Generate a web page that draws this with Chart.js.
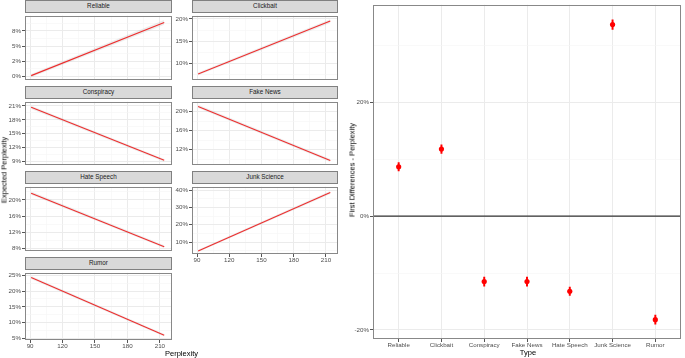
<!DOCTYPE html>
<html>
<head>
<meta charset="utf-8">
<script src="https://cdn.jsdelivr.net/npm/chart.js@4"></script>
<style>
  body { margin: 0; background: #fff; width: 685px; height: 358px; overflow: hidden; position: relative;
         font-family: "Liberation Sans", Arial, sans-serif; }
  canvas, .strip, .title { position: absolute; }
  .strip { background: #d9d9d9; border: 1px solid #808080; box-sizing: border-box; font-size: 6.3px;
           color: #1a1a1a; text-align: center; line-height: 10px; }
  .title { font-size: 7.5px; color: #000; white-space: nowrap; transform: translate(-50%, -50%); }
  .title.rot { transform: translate(-50%, -50%) rotate(-90deg); }
</style>
</head>
<body>
<script>
// ---- data ----
const types = ['Reliable', 'Clickbait', 'Conspiracy', 'Fake News', 'Hate Speech', 'Junk Science', 'Rumor'];

// left facets: expected perplexity (%) at the two ends of the perplexity range
const perplexity = [91, 214];
const perplexityTicks = [90, 120, 150, 180, 210];
const perplexityMinor = [105, 135, 165, 195];

const fitReliable = [0.15, 8.9];
const fitClickbait = [7.7, 19.5];
const fitConspiracy = [20.7, 9.25];
const fitFakeNews = [21.1, 9.7];
const fitHateSpeech = [21.7, 8.4];
const fitJunkScience = [4.9, 38.6];
const fitRumor = [24.3, 6.0];

// half width of the grey confidence band (%)
const ciReliable = [0.25, 0.4];
const ciClickbait = [0.3, 0.4];
const ciConspiracy = [0.35, 0.3];
const ciFakeNews = [0.35, 0.3];
const ciHateSpeech = [0.4, 0.35];
const ciJunkScience = [0.7, 0.9];
const ciRumor = [0.45, 0.4];

const ticksReliable = [0, 2.5, 5, 7.5];
const labelsReliable = ['0%', '2%', '5%', '8%'];
const ticksClickbait = [10, 15, 20];
const ticksConspiracy = [9, 12, 15, 18, 21];
const ticksFakeNews = [12, 16, 20];
const ticksHateSpeech = [8, 12, 16, 20];
const ticksJunkScience = [10, 20, 30, 40];
const ticksRumor = [5, 10, 15, 20, 25];

// right panel: first differences (%)
const firstDiff = [8.7, 11.8, -11.5, -11.5, -13.2, 33.7, -18.2];
const firstDiffErr = [0.75, 0.75, 0.8, 0.8, 0.75, 0.85, 0.8];
const firstDiffTicks = [-20, 0, 20];
const firstDiffMinor = [-10, 10, 30];

// ---- helpers ----
const FONT = '"Liberation Sans", Arial, sans-serif';
const tickFont = { family: FONT, size: 6.2 };
const TICK_COLOR = '#4d4d4d';
const MAJOR = '#ebebeb';
const MINOR = '#f5f5f5';

function minorBetween(ticks, lo, hi) {
  const step = ticks[1] - ticks[0];
  const out = [];
  for (let v = ticks[0] - step / 2; v <= hi; v += step) {
    if (v >= lo && !ticks.includes(v)) out.push(v);
  }
  return out;
}

const frame = {
  id: 'frame',
  afterDraw(chart) {
    const a = chart.chartArea, c = chart.ctx;
    c.save();
    c.strokeStyle = '#888';
    c.lineWidth = 1;
    c.strokeRect(Math.round(a.left) + 0.5, Math.round(a.top) + 0.5,
                 Math.round(a.right - a.left) - 1, Math.round(a.bottom - a.top) - 1);
    c.restore();
  }
};

function addDiv(cls, text, style) {
  const d = document.createElement('div');
  d.className = cls;
  d.textContent = text;
  Object.assign(d.style, style);
  document.body.appendChild(d);
}

function makeCanvas(left, top, w, h) {
  const cv = document.createElement('canvas');
  cv.width = w; cv.height = h;
  Object.assign(cv.style, { left: left + 'px', top: top + 'px', width: w + 'px', height: h + 'px' });
  document.body.appendChild(cv);
  return cv;
}

function gridFor(major, drawTicks) {
  return {
    offset: false,
    drawTicks,
    tickLength: 3,
    color: c => (c.tick && major.includes(c.tick.value)) ? MAJOR : MINOR,
    lineWidth: c => (c.tick && major.includes(c.tick.value)) ? 1 : 0.6,
    tickColor: c => (c.tick && major.includes(c.tick.value)) ? '#555' : 'rgba(0,0,0,0)'
  };
}

// ---- facets ----
const facets = [
  { name: 'Reliable', fit: fitReliable, ci: ciReliable, ticks: ticksReliable, labels: labelsReliable, ymin: -0.45, ymax: 10.0 },
  { name: 'Clickbait', fit: fitClickbait, ci: ciClickbait, ticks: ticksClickbait, ymin: 6.5, ymax: 20.7 },
  { name: 'Conspiracy', fit: fitConspiracy, ci: ciConspiracy, ticks: ticksConspiracy, ymin: 8.4, ymax: 21.9 },
  { name: 'Fake News', fit: fitFakeNews, ci: ciFakeNews, ticks: ticksFakeNews, ymin: 8.9, ymax: 22.1 },
  { name: 'Hate Speech', fit: fitHateSpeech, ci: ciHateSpeech, ticks: ticksHateSpeech, ymin: 7.5, ymax: 23.3 },
  { name: 'Junk Science', fit: fitJunkScience, ci: ciJunkScience, ticks: ticksJunkScience, ymin: 3.1, ymax: 41.9 },
  { name: 'Rumor', fit: fitRumor, ci: ciRumor, ticks: ticksRumor, ymin: 4.5, ymax: 25.8 }
];

const colLeft = [25, 192], colRight = [172, 338], colAxisW = [25, 20];
const stripTop = [0, 86, 171, 257];
const panelH = [71, 70, 71, 71];
const X_AXIS_H = 11;

facets.forEach((f, i) => {
  const col = i % 2, row = Math.floor(i / 2);
  const hasX = (i === 5 || i === 6);
  const pl = colLeft[col], pr = colRight[col], aw = colAxisW[col];
  const st = stripTop[row], pt = st + 12;
  addDiv('strip', f.name, { left: pl + 'px', top: st + 'px', width: (pr - pl) + 'px', height: '13px' });

  const w = pr - pl + aw + 1;
  const h = panelH[row] + 1 + (hasX ? X_AXIS_H : 1);
  const cv = makeCanvas(pl - aw, pt - 1, w, h);
  const minor = minorBetween(f.ticks, f.ymin, f.ymax);
  const labels = f.labels || f.ticks.map(v => v + '%');

  new Chart(cv, {
    type: 'line',
    data: {
      datasets: [
        { data: perplexity.map((x, k) => ({ x, y: f.fit[k] + f.ci[k] })), borderWidth: 0, pointRadius: 0,
          fill: '+1', backgroundColor: 'rgba(150,150,150,0.17)' },
        { data: perplexity.map((x, k) => ({ x, y: f.fit[k] - f.ci[k] })), borderWidth: 0, pointRadius: 0, fill: false },
        { data: perplexity.map((x, k) => ({ x, y: f.fit[k] })), borderColor: '#ff1a1a', borderWidth: 1.1,
          pointRadius: 0, fill: false }
      ]
    },
    options: {
      responsive: false, animation: false, events: [],
      layout: { padding: { top: 1, right: 1, bottom: hasX ? 0 : 1, left: 0 } },
      plugins: { legend: { display: false }, tooltip: { enabled: false } },
      scales: {
        x: {
          type: 'linear', min: 85.3, max: 221.2,
          afterBuildTicks: s => { s.ticks = perplexityTicks.concat(perplexityMinor).sort((a, b) => a - b).map(v => ({ value: v })); },
          afterFit: s => { s.height = hasX ? X_AXIS_H : 0; },
          ticks: { display: hasX, autoSkip: false, maxRotation: 0, padding: 0, font: tickFont, color: TICK_COLOR,
                   callback: v => perplexityTicks.includes(v) ? String(v) : '' },
          grid: gridFor(perplexityTicks, hasX),
          border: { display: false }
        },
        y: {
          min: f.ymin, max: f.ymax,
          afterBuildTicks: s => { s.ticks = f.ticks.concat(minor).sort((a, b) => a - b).map(v => ({ value: v })); },
          afterFit: s => { s.width = aw; },
          ticks: { autoSkip: false, padding: 1, font: tickFont, color: TICK_COLOR,
                   callback: v => { const k = f.ticks.indexOf(v); return k >= 0 ? labels[k] : ''; } },
          grid: gridFor(f.ticks, true),
          border: { display: false }
        }
      }
    },
    plugins: [frame]
  });
});

addDiv('title rot', 'Expected Perplexity', { left: '4px', top: '170px' });
addDiv('title', 'Perplexity', { left: '181.5px', top: '353px' });

// ---- right panel ----
const rc = makeCanvas(340, 0, 345, 350);
new Chart(rc, {
  type: 'scatter',
  data: {
    datasets: [
      { type: 'line', data: [{ x: -0.6, y: 0 }, { x: 6.6, y: 0 }], borderColor: '#333', borderWidth: 1.2,
        pointRadius: 0, fill: false },
      { type: 'bar', data: types.map((t, i) => ({ x: i, y: [firstDiff[i] - firstDiffErr[i], firstDiff[i] + firstDiffErr[i]] })),
        backgroundColor: '#ff0000', barThickness: 1.3, grouped: false },
      { data: types.map((t, i) => ({ x: i, y: firstDiff[i] })), backgroundColor: '#ff0000', borderWidth: 0, pointRadius: 2.6 }
    ]
  },
  options: {
    responsive: false, animation: false, events: [],
    layout: { padding: { top: 1, right: 1.5, bottom: 0, left: 0 } },
    plugins: { legend: { display: false }, tooltip: { enabled: false } },
    scales: {
      x: {
        type: 'linear', min: -0.6, max: 6.6, offset: false,
        afterBuildTicks: s => { s.ticks = types.map((t, i) => ({ value: i })); },
        afterFit: s => { s.height = 11; },
        ticks: { autoSkip: false, maxRotation: 0, padding: 0, font: tickFont, color: TICK_COLOR,
                 callback: v => types[v] },
        grid: gridFor([0, 1, 2, 3, 4, 5, 6], true),
        border: { display: false }
      },
      y: {
        min: -21.6, max: 37.2,
        afterBuildTicks: s => { s.ticks = firstDiffTicks.concat(firstDiffMinor).sort((a, b) => a - b).map(v => ({ value: v })); },
        afterFit: s => { s.width = 33; },
        ticks: { autoSkip: false, padding: 1, font: tickFont, color: TICK_COLOR,
                 callback: v => firstDiffTicks.includes(v) ? v + '%' : '' },
        grid: gridFor(firstDiffTicks, true),
        border: { display: false }
      }
    }
  },
  plugins: [frame]
});

addDiv('title rot', 'First Differences - Perplexity', { left: '352px', top: '170px' });
addDiv('title', 'Type', { left: '528px', top: '352px' });
</script>
</body>
</html>
